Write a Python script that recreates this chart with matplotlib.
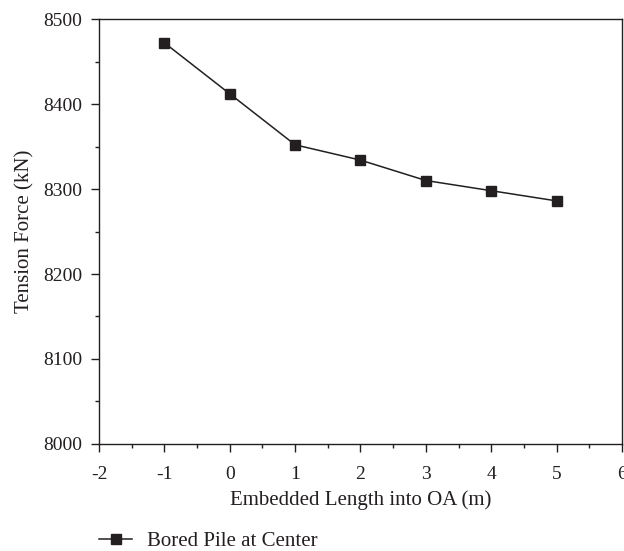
import matplotlib
matplotlib.use("Agg")
import matplotlib.pyplot as plt
from matplotlib.ticker import MultipleLocator

# data
embedded_length = [-1, 0, 1, 2, 3, 4, 5]
tension_force = [8472, 8412, 8352, 8334, 8310, 8298, 8286]
series_label = "Bored Pile at Center"

plt.rcParams["font.family"] = ["Liberation Serif", "DejaVu Serif"]
plt.rcParams["axes.unicode_minus"] = False
ink = "#231f20"

fig = plt.figure(figsize=(6.24, 5.51), dpi=100)
ax = fig.add_axes([0.1587, 0.1942, 0.838, 0.7713])

ax.plot(embedded_length, tension_force, color=ink, linewidth=1.1,
        marker="s", markersize=6.5, markerfacecolor=ink, markeredgecolor=ink,
        label=series_label)

ax.set_xlim(-2, 6)
ax.set_ylim(8000, 8500)
ax.xaxis.set_major_locator(MultipleLocator(1))
ax.xaxis.set_minor_locator(MultipleLocator(0.5))
ax.yaxis.set_major_locator(MultipleLocator(100))
ax.yaxis.set_minor_locator(MultipleLocator(50))
ax.tick_params(axis="both", which="major", direction="out", length=6,
               width=1, labelsize=14, colors=ink, pad=6)
ax.tick_params(axis="x", which="major", pad=9.5)
ax.tick_params(axis="both", which="minor", direction="out", length=3,
               width=1, colors=ink)
for s in ax.spines.values():
    s.set_color(ink)
    s.set_linewidth(1)

ax.set_xlabel("Embedded Length into OA (m)", fontsize=15, color=ink, labelpad=5.5)
ax.set_ylabel("Tension Force (kN)", fontsize=15, color=ink, labelpad=6)

ax.legend(loc="center left", bbox_to_anchor=(0.1587, 1 - 541 / 551),
          bbox_transform=fig.transFigure, frameon=False, fontsize=15,
          borderpad=0, borderaxespad=0, handlelength=1.6, handletextpad=0.7,
          labelcolor=ink)

fig.savefig("out.png", dpi=100)
